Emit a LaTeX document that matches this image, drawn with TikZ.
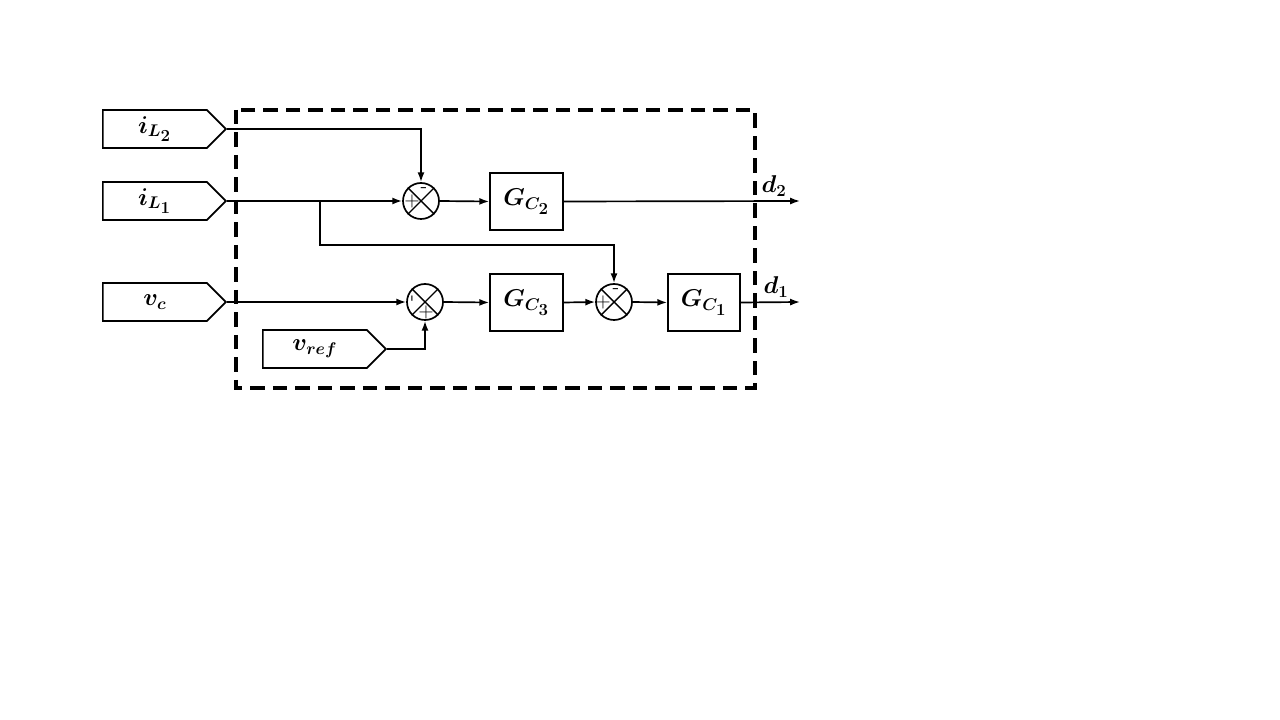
\documentclass[tikz,border=0pt]{standalone}
\usetikzlibrary{shapes.symbols,arrows.meta}
\begin{document}
\begin{tikzpicture}[x=0.025cm,y=-0.025cm,>={Latex[length=7pt,width=5pt]},line width=1.2pt]
    \tikzstyle{tag}=[signal, signal to=east, draw, anchor=west, minimum width=3.075cm, minimum height=0.95cm, inner sep=0pt, font=\fontsize{17}{20}\selectfont\boldmath]
    \tikzstyle{block}=[rectangle, draw, minimum width=1.825cm, minimum height=1.425cm, font=\fontsize{17}{20}\selectfont\boldmath]
    \tikzstyle{sum}=[circle, draw, minimum size=0.9cm, inner sep=0pt]
    \tikzstyle{sign}=[inner sep=0pt, font=\Large]

    \useasboundingbox (0,0) rectangle (1280,720);

    % inputs
    \node[tag] (iL2) at (102,129) {$i_{L_{\scriptstyle 2}}$};
    \node[tag] (iL1) at (102,201) {$i_{L_{\scriptstyle 1}}$};
    \node[tag] (vc) at (102,302) {$v_c$};
    \node[tag] (vref) at (262,349) {$v_{ref}$};

    % controller
    \draw[line width=2.2pt, dash pattern=on 10pt off 6pt] (236,110) rectangle (755,388);

    \node[sum] (s1) at (421,201) {};
    \node[sum] (s2) at (425,302) {};
    \node[sum] (s3) at (614,302) {};
    \foreach \s in {s1,s2,s3}
        \draw[line width=1pt] (\s.45) -- (\s.225) (\s.135) -- (\s.315);

    \node[sign] (p1) at (412,201) {+};
    \node[sign] (m1) at (424,190) {-};
    \node[sign, rotate=90] (m2) at (414,298) {-};
    \node[sign] (p2) at (426,312) {+};
    \node[sign] (p3) at (603,302) {+};
    \node[sign] (m3) at (616,291) {-};

    \node[block] (GC2) at (526.5,201.5) {$G_{C_{\scriptstyle 2}}$};
    \node[block] (GC3) at (526.5,302.5) {$G_{C_{\scriptstyle 3}}$};
    \node[block, minimum width=1.8cm] (GC1) at (704,302.5) {$G_{C_{\scriptstyle 1}}$};

    % outputs
    \coordinate (o2) at (800,201);
    \coordinate (o1) at (800,302);
    \node[font=\fontsize{17}{20}\selectfont\boldmath] (d2) at (774,186) {$d_2$};
    \node[font=\fontsize{17}{20}\selectfont\boldmath] (d1) at (776,287) {$d_1$};

    \coordinate (br) at (320,201);

    \draw[->] (iL2.east) -| (s1.north);
    \draw[->] (iL1.east) -- (s1.west);
    \draw[->] (br) -- ++(0,44) -| (s3.north);
    \draw[->] (s1.east) -- (GC2.west);
    \draw[->] (GC2.east) -- (o2);
    \draw[->] (vc.east) -- (s2.west);
    \draw[->] (vref.east) -| (s2.south);
    \draw[->] (s2.east) -- (GC3.west);
    \draw[->] (GC3.east) -- (s3.west);
    \draw[->] (s3.east) -- (GC1.west);
    \draw[->] (GC1.east) -- (o1);
\end{tikzpicture}
\end{document}
